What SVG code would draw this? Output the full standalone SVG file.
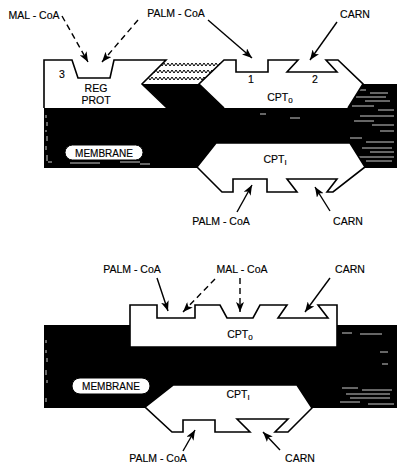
<svg xmlns="http://www.w3.org/2000/svg" width="398" height="463" viewBox="0 0 398 463">
<defs>
<style>
.lbl{font-family:"Liberation Sans",Arial,sans-serif;font-size:10.5px;fill:#000;text-anchor:middle;stroke:#000;stroke-width:0.15}
.sm{font-size:10px}
.shape{fill:#fff;stroke:#000;stroke-width:1.6;stroke-linejoin:miter}
.mem{fill:#000}
.arr{stroke:#000;stroke-width:1.4;fill:none;marker-end:url(#ah)}
.dash{stroke-dasharray:6,4}
.tex{stroke:#fff;stroke-width:0.8;fill:none}
.zz{stroke:#000;stroke-width:1;fill:none}
.pill{fill:#fff;stroke:#000;stroke-width:1}
</style>
<marker id="ah" viewBox="0 0 10 8" refX="10" refY="4" markerWidth="10" markerHeight="8" markerUnits="userSpaceOnUse" orient="auto">
<path d="M0,0 L10,4 L0,8 L2.5,4 Z" fill="#000"/>
</marker>
<clipPath id="zclip">
<polygon points="166,61 224,61 199,84 142,84"/>
</clipPath>
</defs>

<g id="top-membrane">
<rect class="mem" x="44" y="108" width="353" height="60"/>
<polygon class="mem" points="348,108 363,84 397,84 397,108"/>
<polygon class="mem" points="142,84 199,84 224,108 167,108"/>
<polygon fill="#fff" points="166,60 224,60 199,84 142,84"/>
<g class="zz" clip-path="url(#zclip)">
<path d="M140,63 l2,3 l2,-3 l2,3 l2,-3 l2,3 l2,-3 l2,3 l2,-3 l2,3 l2,-3 l2,3 l2,-3 l2,3 l2,-3 l2,3 l2,-3 l2,3 l2,-3 l2,3 l2,-3 l2,3 l2,-3 l2,3 l2,-3 l2,3 l2,-3 l2,3 l2,-3 l2,3 l2,-3 l2,3 l2,-3 l2,3 l2,-3 l2,3 l2,-3 l2,3 l2,-3 l2,3 l2,-3 l2,3 l2,-3 l2,3 l2,-3"/>
<path d="M140,70 l2,3 l2,-3 l2,3 l2,-3 l2,3 l2,-3 l2,3 l2,-3 l2,3 l2,-3 l2,3 l2,-3 l2,3 l2,-3 l2,3 l2,-3 l2,3 l2,-3 l2,3 l2,-3 l2,3 l2,-3 l2,3 l2,-3 l2,3 l2,-3 l2,3 l2,-3 l2,3 l2,-3 l2,3 l2,-3 l2,3 l2,-3 l2,3 l2,-3 l2,3 l2,-3 l2,3 l2,-3 l2,3 l2,-3 l2,3 l2,-3"/>
<path d="M140,77 l2,3 l2,-3 l2,3 l2,-3 l2,3 l2,-3 l2,3 l2,-3 l2,3 l2,-3 l2,3 l2,-3 l2,3 l2,-3 l2,3 l2,-3 l2,3 l2,-3 l2,3 l2,-3 l2,3 l2,-3 l2,3 l2,-3 l2,3 l2,-3 l2,3 l2,-3 l2,3 l2,-3 l2,3 l2,-3 l2,3 l2,-3 l2,3 l2,-3 l2,3 l2,-3 l2,3 l2,-3 l2,3 l2,-3 l2,3 l2,-3"/>
</g>
<g class="tex">
<path d="M352,90h14M370,93h18M356,97h30M365,101h25M352,106h22M378,110h16M360,116h34M354,121h20M372,125h22M380,131h14M350,138h12M366,142h28M362,148h30M370,152h24M358,157h36M366,161h26"/>
<path d="M46,115v3M47,122v4M46,130v2M47,136v5M46,146v4M47,155v6M48,162h4M70,163h30M120,162h20M140,164h10M260,114h6M290,118h10M220,165h20"/>
</g>
<rect class="pill" x="65" y="145" width="78" height="15" rx="7.5"/>
<text class="lbl sm" x="104" y="156.5">MEMBRANE</text>
</g>

<g id="reg-prot">
<path class="shape" d="M44,108 L44,60 L72,60 L78,78 L110,78 L114,60 L166,60 L142,84 L167,108"/>
<text class="lbl" x="62" y="78">3</text>
<text class="lbl" x="96" y="92">REG</text>
<text class="lbl" x="96" y="104">PROT</text>
</g>

<g id="cpt0-top">
<path class="shape" d="M224,108 L199,84 L224,60 L236,60 L236,72 L268,72 L268,60 L298,60 L287,72 L337,72 L326,60 L338,60 L363,84 L348,108"/>
<text class="lbl" x="251" y="83">1</text>
<text class="lbl" x="315" y="83">2</text>
<text class="lbl" x="280" y="101">CPT<tspan font-size="8" dy="2">0</tspan></text>
</g>

<g id="cpt1-top">
<path class="shape" d="M216,143 L350,143 L365,167 L333,192 L327,192 L337,179 L287,179 L297,192 L267,192 L267,179 L233,179 L233,192 L222,192 L197,167 Z"/>
<text class="lbl" x="275" y="163">CPT<tspan font-size="8" dy="2">I</tspan></text>
</g>

<g id="bottom-membrane">
<rect class="mem" x="44" y="325" width="353" height="83"/>
<g class="tex">
<path d="M342,333h10M360,334h22M380,352h8M382,364h6M342,388h16M362,390h30M346,394h44M350,398h40M340,402h20M368,404h26M46,340v3M46,350v3M47,358v4M46,370v5M47,380v3M46,398v4"/>
</g>
<rect class="pill" x="72" y="378" width="78" height="16" rx="8"/>
<text class="lbl sm" x="111" y="390">MEMBRANE</text>
</g>

<g id="cpt0-bottom">
<path class="shape" d="M130,347 L130,305 L157,305 L157,318 L195,318 L195,305 L220,305 L227,318 L253,318 L260,305 L287,305 L278,318 L328,318 L318,305 L337,305 L337,347 Z"/>
<text class="lbl" x="240" y="338">CPT<tspan font-size="8" dy="2">0</tspan></text>
</g>

<g id="cpt1-bottom">
<path class="shape" d="M173,385 L297,385 L312,408 L288,432 L275,432 L288,419 L237,419 L250,432 L215,432 L215,420 L183,420 L183,432 L172,432 L145,407 Z"/>
<text class="lbl" x="238" y="398">CPT<tspan font-size="8" dy="2">I</tspan></text>
</g>

<g id="labels">
<text class="lbl" x="34" y="19">MAL - CoA</text>
<text class="lbl" x="176" y="17">PALM - CoA</text>
<text class="lbl" x="355" y="18">CARN</text>
<text class="lbl" x="221" y="225">PALM - CoA</text>
<text class="lbl" x="348" y="225">CARN</text>
<text class="lbl" x="132" y="273">PALM - CoA</text>
<text class="lbl" x="242" y="273">MAL - CoA</text>
<text class="lbl" x="350" y="273">CARN</text>
<text class="lbl" x="158" y="462">PALM - CoA</text>
<text class="lbl" x="300" y="462">CARN</text>
</g>

<g id="connectors">
<line class="arr dash" x1="62" y1="16" x2="88" y2="62"/>
<line class="arr dash" x1="138" y1="20" x2="102" y2="62"/>
<line class="arr" x1="208" y1="20" x2="252" y2="58"/>
<line class="arr" x1="337" y1="22" x2="310" y2="60"/>
<line class="arr" x1="237" y1="212" x2="252" y2="185"/>
<line class="arr" x1="330" y1="211" x2="315" y2="187"/>
<line class="arr" x1="157" y1="278" x2="168" y2="311"/>
<line class="arr dash" x1="215" y1="279" x2="183" y2="312"/>
<line class="arr dash" x1="240" y1="278" x2="240" y2="312"/>
<line class="arr" x1="330" y1="278" x2="305" y2="312"/>
<line class="arr" x1="183" y1="451" x2="195" y2="430"/>
<line class="arr" x1="280" y1="450" x2="263" y2="432"/>
</g>
</svg>
